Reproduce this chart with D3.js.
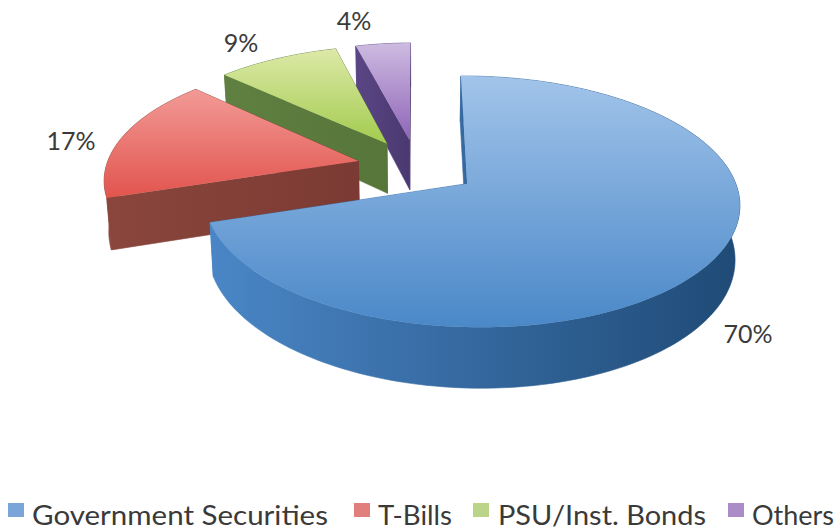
<!DOCTYPE html>
<html>
<head>
<meta charset="utf-8">
<script src="https://cdn.jsdelivr.net/npm/d3@7"></script>
<style>
  html, body { margin: 0; padding: 0; background: #fff; }
  svg { display: block; }
  text { font-family: Lato, "Open Sans", sans-serif; fill: #3a3a3a; }
</style>
</head>
<body>
<svg id="chart" width="840" height="531"></svg>
<script>
// Portfolio composition
const categories = ["Government Securities", "T-Bills", "PSU/Inst. Bonds", "Others"];
const shares = [70, 17, 9, 4];

// Slice colours: top face light/dark, wall light/dark
const topLight = ["#a2c4ea", "#f29a96", "#dde9a8", "#cdbbe0"];
const topDark = ["#4a88c8", "#e2544e", "#a2cb4e", "#8f64b8"];
const wallLight = ["#4a86c6", "#8a463c", "#5f8040", "#5a4684"];
const wallDark = ["#1f4a76", "#7b3a33", "#56763a", "#4a3870"];
const swatchColours = ["#7aa5d8", "#e07f7c", "#bcd488", "#a98cc8"];

// Placement of the percentage labels and the legend
const labelAnchors = [[748, 343], [71, 150], [241, 52], [354, 30]];
const legendSwatchX = [8, 354, 473, 728];
const legendTextX = [32, 378, 498, 752];
const legendTextWidth = [296, 74, 208, 82];

// Perspective view of the tilted pie
const view = { cx: 417, cy: 167, rx: 258, ry: 118, px: 0.015, py: 0.14, explode: 0.235, depth: 51, floor: 0.985 };

function project(X, Y) {
  const s = 1 / (1 + view.py * Y - view.px * X);
  return { x: view.cx + view.rx * X * s, y: view.cy - view.ry * Y * s, s };
}
const topPoint = ([X, Y]) => { const p = project(X, Y); return [p.x, p.y]; };
const floorPoint = ([X, Y]) => {
  const p = project(X, Y);
  return [view.cx + (p.x - view.cx) * view.floor, p.y + view.depth * p.s];
};

const svg = d3.select("#chart");
const defs = svg.append("defs");
const closed = d3.line().curve(d3.curveLinearClosed);

const arcs = d3.pie().sort(null)(shares);

// World-space geometry for each exploded slice
const slices = arcs.map((a, i) => {
  const mid = (a.startAngle + a.endAngle) / 2;
  const apex = [view.explode * Math.sin(mid), view.explode * Math.cos(mid)];
  const steps = Math.max(8, Math.round((a.endAngle - a.startAngle) * 40));
  const rim = d3.range(steps + 1).map(k => {
    const t = a.startAngle + (a.endAngle - a.startAngle) * k / steps;
    return [apex[0] + Math.sin(t), apex[1] + Math.cos(t)];
  });
  return { i, apex, rim };
});

function wallGradient(id, c0, c1, x0, x1) {
  const g = defs.append("linearGradient").attr("id", id)
    .attr("gradientUnits", "userSpaceOnUse")
    .attr("x1", x0).attr("x2", x1).attr("y1", 0).attr("y2", 0);
  g.append("stop").attr("offset", 0).attr("stop-color", c0);
  g.append("stop").attr("offset", 1).attr("stop-color", c1);
}

// Back to front so nearer slices cover the ones behind them
[...slices].reverse().forEach(({ i, apex, rim }) => {
  const g = svg.append("g");
  const topRing = [apex, ...rim].map(topPoint);
  const ys = topRing.map(d => d[1]);
  const xs = topRing.map(d => d[0]);

  const topId = `top-${i}`;
  const tg = defs.append("linearGradient").attr("id", topId)
    .attr("gradientUnits", "userSpaceOnUse")
    .attr("x1", 0).attr("x2", 0).attr("y1", d3.min(ys)).attr("y2", d3.max(ys));
  tg.append("stop").attr("offset", 0).attr("stop-color", topLight[i]);
  tg.append("stop").attr("offset", 1).attr("stop-color", topDark[i]);

  const wallId = `wall-${i}`;
  wallGradient(wallId, wallLight[i], wallDark[i], d3.min(xs), d3.max(xs));

  // Outer rim wall
  const rimTop = rim.map(topPoint);
  const rimFloor = rim.map(floorPoint).reverse();
  g.append("path").attr("d", closed([...rimTop, ...rimFloor]))
    .attr("fill", `url(#${wallId})`).attr("stroke", `url(#${wallId})`).attr("stroke-width", 0.6);

  // Radial walls from the apex to both rim ends
  [rim[0], rim[rim.length - 1]].forEach(end => {
    g.append("path")
      .attr("d", closed([topPoint(apex), topPoint(end), floorPoint(end), floorPoint(apex)]))
      .attr("fill", `url(#${wallId})`).attr("stroke", `url(#${wallId})`).attr("stroke-width", 0.6);
  });

  // Top face
  g.append("path").attr("d", closed(topRing)).attr("fill", `url(#${topId})`);
});

// Percentage labels
svg.append("g").selectAll("text").data(arcs).join("text")
  .attr("x", (d, i) => labelAnchors[i][0])
  .attr("y", (d, i) => labelAnchors[i][1])
  .attr("text-anchor", "middle")
  .attr("font-size", 25)
  .text(d => `${d.value}%`);

// Legend
const legend = svg.append("g");
legend.selectAll("rect").data(categories).join("rect")
  .attr("x", (d, i) => legendSwatchX[i])
  .attr("y", 503).attr("width", 16).attr("height", 14)
  .attr("fill", (d, i) => swatchColours[i]);
legend.selectAll("text").data(categories).join("text")
  .attr("x", (d, i) => legendTextX[i])
  .attr("y", 525)
  .attr("font-size", 27)
  .attr("textLength", (d, i) => legendTextWidth[i])
  .attr("lengthAdjust", "spacingAndGlyphs")
  .text(d => d);
</script>
</body>
</html>
